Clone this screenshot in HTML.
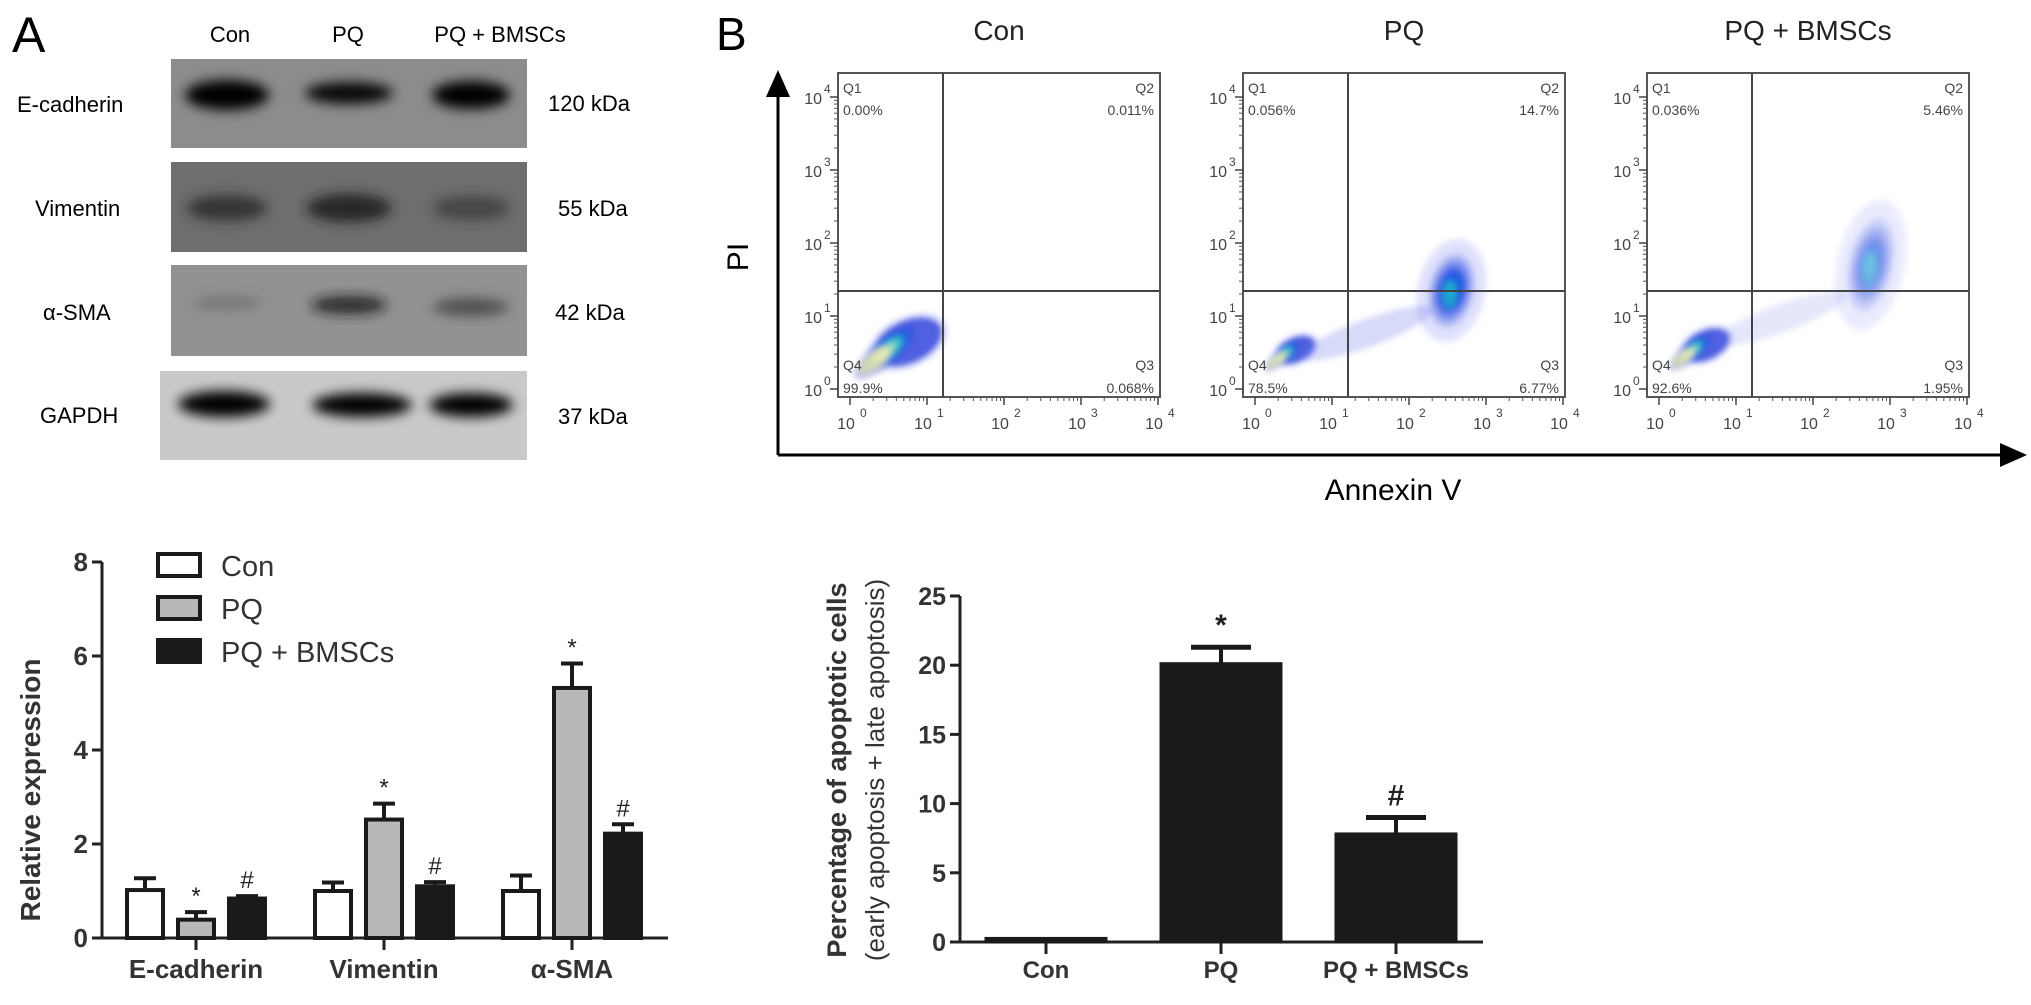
<!DOCTYPE html>
<html><head><meta charset="utf-8">
<style>
html,body{margin:0;padding:0;background:#fff;}
svg{display:block;font-family:"Liberation Sans",Arial,sans-serif;}
</style></head>
<body>
<svg id="fig" width="2031" height="1005" viewBox="0 0 2031 1005" xmlns="http://www.w3.org/2000/svg">
<defs>
  <filter id="blur6" x="-50%" y="-50%" width="200%" height="200%"><feGaussianBlur stdDeviation="6"/></filter>
  <filter id="blur3" x="-50%" y="-50%" width="200%" height="200%"><feGaussianBlur stdDeviation="3"/></filter>
  <filter id="blur12" x="-50%" y="-50%" width="200%" height="200%"><feGaussianBlur stdDeviation="12"/></filter>
  <radialGradient id="blobG">
    <stop offset="0" stop-color="#f3e6a0"/>
    <stop offset="0.25" stop-color="#9fe0c0"/>
    <stop offset="0.45" stop-color="#2fc0c8"/>
    <stop offset="0.7" stop-color="#1f5fe0"/>
    <stop offset="1" stop-color="#2a35d8" stop-opacity="0"/>
  </radialGradient>
  <radialGradient id="blobB">
    <stop offset="0" stop-color="#1ea8d8"/>
    <stop offset="0.4" stop-color="#1f4fe0"/>
    <stop offset="1" stop-color="#3a45e0" stop-opacity="0"/>
  </radialGradient>
  <marker id="arrowHead" markerWidth="10" markerHeight="10" refX="5" refY="5" orient="auto"><path d="M0,1 L9,5 L0,9 z" fill="#000"/></marker>
</defs>

<text x="12" y="52" font-size="50">A</text>
<g font-size="22" text-anchor="middle">
  <text x="230" y="42">Con</text>
  <text x="348" y="42">PQ</text>
  <text x="500" y="42">PQ + BMSCs</text>
</g>
<g font-size="22">
  <text x="17" y="112">E-cadherin</text>
  <text x="35" y="216">Vimentin</text>
  <text x="43" y="320">α-SMA</text>
  <text x="40" y="423">GAPDH</text>
</g>
<g font-size="22">
  <text x="548" y="111">120 kDa</text>
  <text x="558" y="216">55 kDa</text>
  <text x="555" y="320">42 kDa</text>
  <text x="558" y="424">37 kDa</text>
</g>
<g id="blot"></g>

<g id="chartA"></g>

<text x="716" y="50" font-size="46">B</text>
<g id="flow"></g>
<line x1="778" y1="455" x2="778" y2="82" stroke="#000" stroke-width="3" marker-end="url(#arrowHead)"/>
<polyline points="778,455 2015,455" fill="none" stroke="#000" stroke-width="3" marker-end="url(#arrowHead)"/>
<text x="748" y="257" font-size="30" text-anchor="middle" transform="rotate(-90 748 257)">PI</text>
<text x="1393" y="500" font-size="30" text-anchor="middle">Annexin V</text>

<g id="chartB"></g>
</svg>

<script>
// ---------- Chart A data ----------
const groupsA = ["E-cadherin", "Vimentin", "α-SMA"];
const seriesA = ["Con", "PQ", "PQ + BMSCs"];
const conA = [1.02, 1.0, 1.0];
const pqA = [0.39, 2.52, 5.32];
const bmscA = [0.84, 1.1, 2.22];
const conErrA = [0.25, 0.18, 0.33];
const pqErrA = [0.16, 0.34, 0.52];
const bmscErrA = [0.05, 0.09, 0.2];
const pqMarksA = ["*", "*", "*"];
const bmscMarksA = ["#", "#", "#"];
const ticksA = [0, 2, 4, 6, 8];

// ---------- Chart B data ----------
const catsB = ["Con", "PQ", "PQ + BMSCs"];
const valsB = [0.15, 20.0, 7.7];
const errsB = [0.05, 1.3, 1.3];
const marksB = ["", "*", "#"];
const ticksB = [0, 5, 10, 15, 20, 25];

// ---------- Flow data (log10 decades) ----------
const flowTitles = ["Con", "PQ", "PQ + BMSCs"];
const q1Vals = ["0.00%", "0.056%", "0.036%"];
const q2Vals = ["0.011%", "14.7%", "5.46%"];
const q3Vals = ["0.068%", "6.77%", "1.95%"];
const q4Vals = ["99.9%", "78.5%", "92.6%"];
const liveX = [0.45, 0.35, 0.4];
const liveY = [0.5, 0.45, 0.5];
const liveSpread = [0.55, 0.32, 0.38];
const apoX = [null, 2.55, 2.75];
const apoY = [null, 1.35, 1.7];
const apoSpreadY = [0, 0.55, 0.7];
const apoStrength = [0, 1.0, 0.65];

const NS = "http://www.w3.org/2000/svg";
function el(tag, attrs, parent, text) {
  const e = document.createElementNS(NS, tag);
  for (const k in attrs) e.setAttribute(k, attrs[k]);
  if (text !== undefined) e.textContent = text;
  parent.appendChild(e);
  return e;
}

(function () {
  const g = document.getElementById("blot");
  const strips = [
    { y: 59, h: 89, bg: "#8c8c8c", name: "ecadherin", bands: [[227, 95, 84, 22, "#000", 1], [349, 93, 88, 14, "#050505", 0.95], [471, 95, 78, 20, "#000", 1]] },
    { y: 162, h: 90, bg: "#6e6e6e", name: "vimentin", bands: [[227, 208, 80, 18, "#2a2a2a", 0.85], [349, 208, 85, 20, "#202020", 0.9], [471, 208, 78, 16, "#333", 0.7]] },
    { y: 265, h: 91, bg: "#929292", name: "asma", bands: [[227, 303, 70, 5, "#555", 0.5], [349, 305, 76, 10, "#1a1a1a", 0.85], [471, 307, 76, 10, "#333", 0.7]] },
    { y: 371, h: 89, bg: "#c9c9c9", name: "gapdh", bands: [[224, 404, 92, 18, "#000", 1], [362, 405, 100, 16, "#000", 1], [471, 405, 84, 16, "#000", 1]] }
  ];
  strips.forEach(function (s, i) {
    const x0 = i === 3 ? 160 : 171;
    const r = el("rect", { x: x0, y: s.y, width: 527 - x0, height: s.h, fill: s.bg }, g);
    
    
    const sub = el("g", { filter: "url(#blur6)" }, g);
    
    
    s.bands.forEach(function (b) {
      el("ellipse", { cx: b[0], cy: b[1], rx: b[2] / 2, ry: b[3] / 2 + 4, fill: b[4], opacity: b[5] }, sub);
    });
  });
})();

(function () {
  const g = document.getElementById("chartA");
  const x0 = 102, xEnd = 668, y0 = 938, unit = 47;
  const yScale = v => y0 - v * unit;
  const groupCenter = i => 196 + i * 188;
  const barW = 36, barStep = 51;
  const ax = el("path", { d: `M${x0},${yScale(8)} V${y0} H${xEnd}`, fill: "none", stroke: "#222", "stroke-width": 3 }, g);
  
  
  ticksA.forEach(function (t) {
    el("line", { x1: x0 - 10, x2: x0, y1: yScale(t), y2: yScale(t), stroke: "#222", "stroke-width": 3 }, g);
    const tl = el("text", { x: x0 - 14, y: yScale(t) + 9, "font-size": 26, "font-weight": "bold", "text-anchor": "end", fill: "#333" }, g, String(t));
    
    
  });
  const yt = el("text", { x: 40, y: 790, "font-size": 28, "font-weight": "bold", "text-anchor": "middle", fill: "#333", transform: "rotate(-90 40 790)" }, g, "Relative expression");
  
  
  const fills = ["#fff", "#b8b8b8", "#1a1a1a"];
  const vals = [conA, pqA, bmscA];
  const errs = [conErrA, pqErrA, bmscErrA];
  const marks = [null, pqMarksA, bmscMarksA];
  groupsA.forEach(function (gname, i) {
    const c = groupCenter(i);
    el("line", { x1: c, x2: c, y1: y0, y2: y0 + 12, stroke: "#222", "stroke-width": 3 }, g);
    const xl = el("text", { x: c, y: y0 + 40, "font-size": 26, "font-weight": "bold", "text-anchor": "middle", fill: "#333" }, g, gname);
    
    
    for (let s = 0; s < 3; s++) {
      const cx = c + (s - 1) * barStep;
      const v = vals[s][i], e = errs[s][i];
      const bx = cx - barW / 2;
      el("line", { x1: cx, x2: cx, y1: yScale(v), y2: yScale(v + e), stroke: "#1a1a1a", "stroke-width": 4 }, g);
      el("line", { x1: cx - 11, x2: cx + 11, y1: yScale(v + e), y2: yScale(v + e), stroke: "#1a1a1a", "stroke-width": 4 }, g);
      const b = el("rect", { x: bx, y: yScale(v), width: barW, height: y0 - yScale(v), fill: fills[s], stroke: "#1a1a1a", "stroke-width": 4 }, g);
      
      
      if (marks[s]) {
        const m = el("text", { x: cx, y: yScale(v + e) - 8, "font-size": 24, "text-anchor": "middle", fill: "#222" }, g, marks[s][i]);
        
        
      }
    }
  });
  const lg = el("g", {}, g);
  
  
  seriesA.forEach(function (s, i) {
    const y = 554 + i * 43;
    const r = el("rect", { x: 158, y: y, width: 42, height: 22, fill: fills[i], stroke: "#1a1a1a", "stroke-width": 4 }, lg);
    
    
    const t = el("text", { x: 221, y: y + 22, "font-size": 29, fill: "#333" }, lg, s);
    
    
  });
})();

(function () {
  const g = document.getElementById("flow");
  const lefts = [838, 1243, 1647];
  const top = 73, bottom = 397, W = 322;
  flowTitles.forEach(function (title, i) {
    const L = lefts[i];
    const xs = d => L + 12 + d * 77;
    const ys = d => bottom - 8 - d * 73;
    const pg = el("g", {}, g);
    
    
    const tt = el("text", { x: L + W / 2, y: 40, "font-size": 28, "text-anchor": "middle", fill: "#222" }, pg, title);
    
    
    const cg = el("g", { filter: "url(#blur3)" }, pg);
    
    
    const lx = xs(liveX[i]), ly = ys(liveY[i]), sp = liveSpread[i] * 77;
    el("ellipse", { cx: lx + sp * 0.55, cy: ly - sp * 0.25, rx: sp * 1.0, ry: sp * 0.6, fill: "#7080f0", opacity: 0.25, transform: `rotate(-25 ${lx + sp * 0.55} ${ly - sp * 0.25})` }, cg);
    el("ellipse", { cx: lx + sp * 0.55, cy: ly - sp * 0.25, rx: sp * 0.85, ry: sp * 0.5, fill: "#2236d8", opacity: 0.75, transform: `rotate(-25 ${lx + sp * 0.55} ${ly - sp * 0.25})` }, cg);
    el("ellipse", { cx: lx, cy: ly, rx: sp * 0.95, ry: sp * 0.32, fill: "url(#blobG)", transform: `rotate(-40 ${lx} ${ly})` }, cg);
    el("ellipse", { cx: lx - sp * 0.25, cy: ly + sp * 0.2, rx: sp * 0.45, ry: sp * 0.2, fill: "#f5e9b0", opacity: 0.8, transform: `rotate(-40 ${lx - sp * 0.25} ${ly + sp * 0.2})` }, cg);
    if (apoX[i] !== null) {
      const ag = el("g", { filter: "url(#blur3)", opacity: apoStrength[i] }, pg);
      
      
      const ax = xs(apoX[i]), ay = ys(apoY[i]), sy = apoSpreadY[i] * 73;
      el("ellipse", { cx: ax, cy: ay, rx: 34, ry: sy * 1.3, fill: "#6070ee", opacity: 0.2, transform: `rotate(12 ${ax} ${ay})` }, ag);
      el("ellipse", { cx: ax, cy: ay, rx: 24, ry: sy, fill: "url(#blobB)", transform: `rotate(12 ${ax} ${ay})` }, ag);
      el("ellipse", { cx: ax - 2, cy: ay + 4, rx: 7, ry: sy * 0.35, fill: "#18b8c8", opacity: 0.7 * apoStrength[i] }, ag);
      el("ellipse", { cx: (ax + lx) / 2, cy: (ay + ly) / 2 + 10, rx: 70, ry: 14, fill: "#6070e8", opacity: 0.25, transform: `rotate(-20 ${(ax + lx) / 2} ${(ay + ly) / 2 + 10})` }, ag);
    }
    const fr = el("rect", { x: L, y: top, width: W, height: bottom - top, fill: "none", stroke: "#555", "stroke-width": 2 }, pg);
    
    
    el("line", { x1: L + 105, x2: L + 105, y1: top, y2: bottom, stroke: "#444", "stroke-width": 2 }, pg);
    el("line", { x1: L, x2: L + W, y1: 291, y2: 291, stroke: "#444", "stroke-width": 2 }, pg);
    for (let d = 0; d <= 4; d++) {
      const tx = el("text", { x: xs(d) - 4, y: bottom + 32, "font-size": 16, "text-anchor": "middle", fill: "#444" }, pg, "10");
      
      
      el("text", { x: xs(d) + 10, y: bottom + 20, "font-size": 12, fill: "#444" }, pg, String(d));
      const ty = el("text", { x: L - 16, y: ys(d) + 7, "font-size": 16, "text-anchor": "end", fill: "#444" }, pg, "10");
      
      
      el("text", { x: L - 14, y: ys(d) - 4, "font-size": 12, fill: "#444" }, pg, String(d));
      el("line", { x1: xs(d), x2: xs(d), y1: bottom, y2: bottom + 8, stroke: "#444", "stroke-width": 1.5 }, pg);
      el("line", { x1: L - 8, x2: L, y1: ys(d), y2: ys(d), stroke: "#444", "stroke-width": 1.5 }, pg);
      if (d < 4) {
        for (let m = 2; m <= 9; m++) {
          const f = Math.log10(m);
          el("line", { x1: xs(d + f), x2: xs(d + f), y1: bottom, y2: bottom + 4, stroke: "#555", "stroke-width": 1 }, pg);
          el("line", { x1: L - 4, x2: L, y1: ys(d + f), y2: ys(d + f), stroke: "#555", "stroke-width": 1 }, pg);
        }
      }
    }
    const qs = [[L + 5, 93, "Q1", "start"], [L + 5, 115, q1Vals[i], "start"], [L + W - 6, 93, "Q2", "end"], [L + W - 6, 115, q2Vals[i], "end"],
                [L + 5, 370, "Q4", "start"], [L + 5, 393, q4Vals[i], "start"], [L + W - 6, 370, "Q3", "end"], [L + W - 6, 393, q3Vals[i], "end"]];
    qs.forEach(function (q) {
      const t = el("text", { x: q[0], y: q[1], "font-size": 14, "text-anchor": q[3], fill: "#444" }, pg, q[2]);
      
      
    });
  });
})();

(function () {
  const g = document.getElementById("chartB");
  const x0 = 960, xEnd = 1483, y0 = 942;
  const yScale = v => y0 - v * (346 / 25);
  const xCenter = i => 1046 + i * 175;
  const barW = 120;
  const ax = el("path", { d: `M${x0},${yScale(25)} V${y0} H${xEnd}`, fill: "none", stroke: "#222", "stroke-width": 3 }, g);
  
  
  ticksB.forEach(function (t) {
    el("line", { x1: x0 - 10, x2: x0, y1: yScale(t), y2: yScale(t), stroke: "#222", "stroke-width": 3 }, g);
    const tl = el("text", { x: x0 - 14, y: yScale(t) + 9, "font-size": 25, "font-weight": "bold", "text-anchor": "end", fill: "#333" }, g, String(t));
    
    
  });
  const y1 = el("text", { x: 846, y: 770, "font-size": 27, "font-weight": "bold", "text-anchor": "middle", fill: "#333", transform: "rotate(-90 846 770)" }, g, "Percentage of apoptotic cells");
  
  
  const y2 = el("text", { x: 884, y: 770, "font-size": 26, "text-anchor": "middle", fill: "#333", transform: "rotate(-90 884 770)" }, g, "(early apoptosis + late apoptosis)");
  
  
  catsB.forEach(function (c, i) {
    const cx = xCenter(i), v = valsB[i], e = errsB[i];
    el("line", { x1: cx, x2: cx, y1: y0, y2: y0 + 12, stroke: "#222", "stroke-width": 3 }, g);
    const xl = el("text", { x: cx, y: y0 + 36, "font-size": 24, "font-weight": "bold", "text-anchor": "middle", fill: "#333" }, g, c);
    
    
    if (v > 1) {
      el("line", { x1: cx, x2: cx, y1: yScale(v), y2: yScale(v + e), stroke: "#1a1a1a", "stroke-width": 4 }, g);
      el("line", { x1: cx - 30, x2: cx + 30, y1: yScale(v + e), y2: yScale(v + e), stroke: "#1a1a1a", "stroke-width": 5 }, g);
    }
    const b = el("rect", { x: cx - barW / 2, y: yScale(v) - 1.5, width: barW, height: y0 - yScale(v) + 1.5, fill: "#1a1a1a", stroke: "#1a1a1a", "stroke-width": 3 }, g);
    
    
    if (marksB[i]) {
      const m = el("text", { x: cx, y: yScale(v + e) - 12, "font-size": 30, "font-weight": "bold", "text-anchor": "middle", fill: "#222" }, g, marksB[i]);
      
      
    }
  });
})();
</script>
</body></html>
